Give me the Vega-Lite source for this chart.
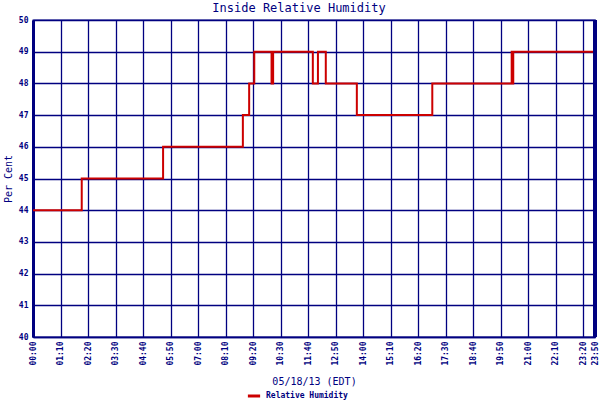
{
  "$schema": "https://vega.github.io/schema/vega-lite/v6.json",
  "autosize": "none",
  "width": 562,
  "height": 317,
  "padding": {"left": 33, "top": 20, "right": 5, "bottom": 63},
  "background": "white",
  "title": {
    "text": "Inside Relative Humidity",
    "font": "DejaVu Sans Mono",
    "fontSize": 12,
    "fontWeight": "normal",
    "color": "#000080",
    "dx": -15,
    "offset": 4,
    "dy": 3
  },
  "config": {
    "view": {"stroke": "#000080", "strokeWidth": 1.3},
    "axis": {
      "gridColor": "#000080",
      "gridWidth": 1.3,
      "gridOpacity": 1,
      "domainColor": "#000080",
      "labelColor": "#000080",
      "titleColor": "#000080",
      "labelFont": "DejaVu Sans Mono",
      "titleFont": "DejaVu Sans Mono",
      "labelFontSize": 8,
      "labelFontWeight": "bold",
      "titleFontWeight": "normal",
      "titleFontSize": 10,
      "ticks": false
    }
  },
  "data": {
    "values": [
      {"minute": 0, "humidity": 44},
      {"minute": 124, "humidity": 45},
      {"minute": 331, "humidity": 46},
      {"minute": 534, "humidity": 47},
      {"minute": 550, "humidity": 48},
      {"minute": 563, "humidity": 49},
      {"minute": 607, "humidity": 48},
      {"minute": 611, "humidity": 49},
      {"minute": 712, "humidity": 48},
      {"minute": 725, "humidity": 49},
      {"minute": 745, "humidity": 48},
      {"minute": 824, "humidity": 47},
      {"minute": 1016, "humidity": 48},
      {"minute": 1218, "humidity": 49},
      {"minute": 1220, "humidity": 48},
      {"minute": 1222, "humidity": 49},
      {"minute": 1430, "humidity": 49}
    ]
  },
  "layer": [
    {
      "mark": {"type": "line", "interpolate": "step-after", "strokeWidth": 2},
      "encoding": {
        "x": {
          "field": "minute",
          "type": "quantitative",
          "scale": {"domain": [0, 1430], "nice": false},
          "title": "05/18/13 (EDT)",
          "axis": {
            "values": [0, 70, 140, 210, 280, 350, 420, 490, 560, 630, 700, 770, 840, 910, 980, 1050, 1120, 1190, 1260, 1330, 1400, 1430],
            "tickCount": 30,
            "labelExpr": "pad(toString(floor(datum.value / 60)), 2, '0', 'left') + ':' + pad(toString(datum.value % 60), 2, '0', 'left')",
            "labelAngle": 270,
            "labelPadding": 4,
            "labelFlush": false,
            "labelOverlap": false,
            "titlePadding": 11,
            "domainWidth": 1.5
          }
        },
        "y": {
          "field": "humidity",
          "type": "quantitative",
          "scale": {"domain": [40, 50], "nice": false},
          "title": "Per Cent",
          "axis": {
            "values": [40, 41, 42, 43, 44, 45, 46, 47, 48, 49, 50],
            "labelPadding": 5,
            "titlePadding": 5,
            "domainWidth": 3
          }
        },
        "color": {
          "datum": "Relative Humidity",
          "type": "nominal",
          "scale": {"range": ["#cc0000"]},
          "legend": {
            "title": null,
            "orient": "none",
            "legendX": 213,
            "legendY": 368,
            "symbolType": "stroke",
            "symbolStrokeWidth": 3,
            "symbolSize": 150,
            "labelFont": "DejaVu Sans Mono",
            "labelFontSize": 8,
            "labelFontWeight": "bold",
            "labelColor": "#000080"
          }
        }
      }
    },
    {
      "mark": {"type": "rule", "color": "#000080", "strokeWidth": 2.5},
      "encoding": {"x": {"datum": 1430, "type": "quantitative"}}
    }
  ]
}
